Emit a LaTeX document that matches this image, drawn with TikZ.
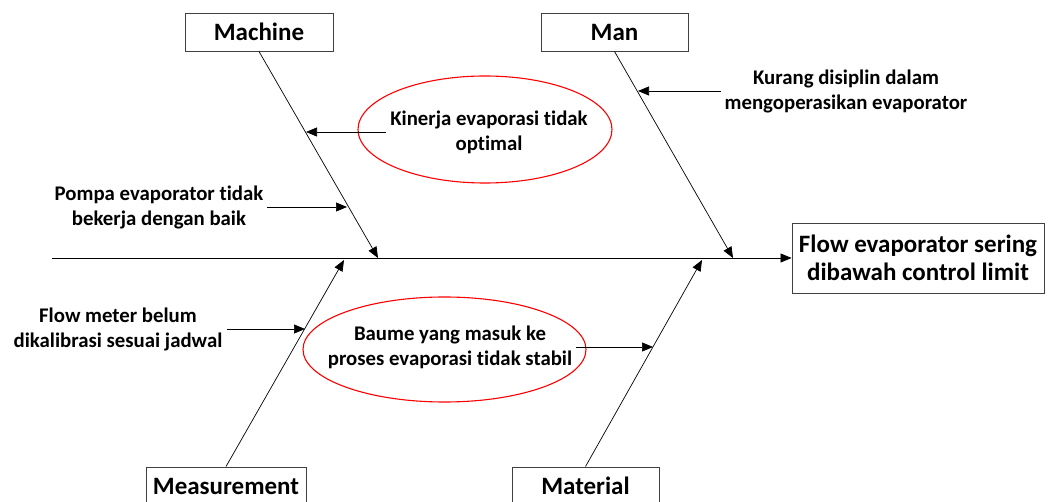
\documentclass[tikz,border=0pt]{standalone}
\usepackage{fontspec}
\setmainfont[Ligatures=NoCommon]{Carlito}
\usetikzlibrary{arrows.meta, shapes.geometric}

\begin{document}
\begin{tikzpicture}[x=1pt, y=-1pt,
  every node/.style={font=\bfseries},
  catbox/.style={draw=black!75, line width=0.9pt, fill=white, inner sep=0pt,
    minimum height=38pt, font=\fontsize{25}{28}\selectfont\bfseries},
  causetext/.style={align=center, inner sep=4pt, font=\fontsize{20.8}{25}\selectfont\bfseries},
  causeoval/.style={ellipse, draw=red, line width=1.1pt, inner sep=0pt},
  tip/.style={-{Triangle[length=11pt,width=9pt]}, line width=0.7pt}]
  \useasboundingbox (0,0) rectangle (1050,502);
  \clip (0,0) rectangle (1050,502);

  % categories and effect
  \node[catbox, minimum width=148pt] (machine) at (259,32) {Machine};
  \node[catbox, minimum width=147pt] (man) at (614.5,32) {Man};
  \node[catbox, minimum width=160pt] (measure) at (226,486) {Measurement};
  \node[catbox, minimum width=147pt] (material) at (585.5,486) {Material};
  \node[catbox, minimum width=252pt, minimum height=70pt, align=center] (effect) at (918,258)
    {Flow evaporator sering\\dibawah control limit};

  % spine and bones
  \coordinate (head) at (52,258);
  \coordinate (mcJ) at (378,258);
  \coordinate (mnJ) at (733,258);
  \coordinate (msJ) at (344,260);
  \coordinate (mtJ) at (702,260);
  \draw[tip] (head) -- (effect.west);
  \draw[tip] (machine.south) -- (mcJ);
  \draw[tip] (man.south) -- (mnJ);
  \draw[tip] (measure.north) -- (msJ);
  \draw[tip] (material.north) -- (mtJ);

  % main causes
  \node[causeoval, minimum width=254pt, minimum height=107pt] (kinoval) at (485,129.5) {};
  \node[causeoval, minimum width=283pt, minimum height=105pt] (baumoval) at (444.5,349.5) {};

  \node[causetext] (kinerja) at (489,132) {Kinerja evaporasi tidak\\optimal};
  \node[causetext] (pompa) at (159,207) {Pompa evaporator tidak\\bekerja dengan baik};
  \node[causetext] (kurang) at (846,91) {Kurang disiplin dalam\\mengoperasikan evaporator};
  \node[causetext] (flowmtr) at (118,329) {Flow meter belum\\dikalibrasi sesuai jadwal};
  \node[causetext] (baume) at (450,347) {Baume yang masuk ke\\proses evaporasi tidak stabil};

  \coordinate (kinT) at (306,132);
  \coordinate (pomT) at (347,207);
  \coordinate (kurT) at (638,91);
  \coordinate (flwT) at (305,329);
  \coordinate (baumT) at (653,347);
  \draw[tip] (kinerja.west) -- (kinT);
  \draw[tip] (pompa.east) -- (pomT);
  \draw[tip] (kurang.west) -- (kurT);
  \draw[tip] (flowmtr.east) -- (flwT);
  \draw[tip] (baume.east) -- (baumT);
\end{tikzpicture}
\end{document}
